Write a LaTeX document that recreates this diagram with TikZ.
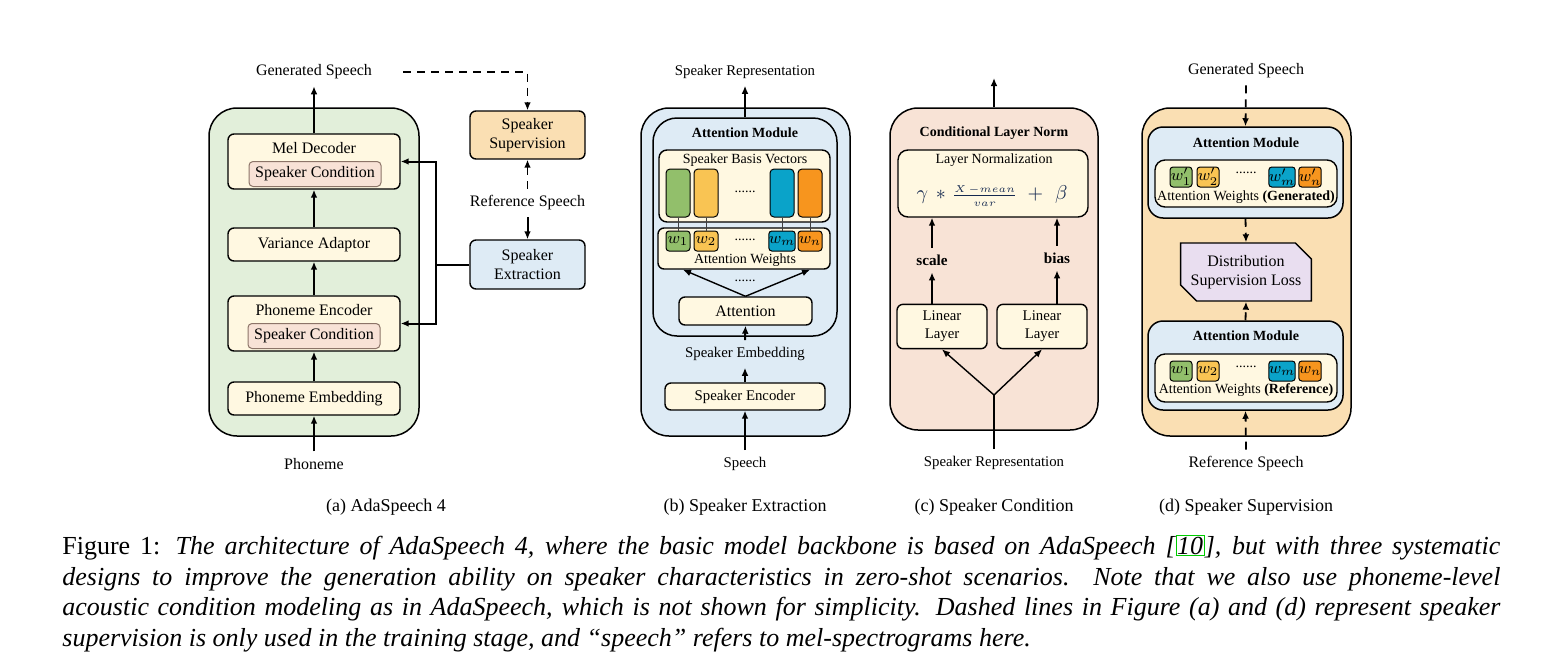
\documentclass[tikz,border=0pt]{standalone}
\usepackage{fontspec}
\setmainfont{Liberation Serif}
\usetikzlibrary{arrows.meta,shapes.misc}
\definecolor{agreen}{HTML}{E2EFDA}
\definecolor{cream}{HTML}{FFF8E1}
\definecolor{condpink}{HTML}{F8E2D6}
\definecolor{condedge}{HTML}{8C7468}
\definecolor{supor}{HTML}{FADFB3}
\definecolor{extblue}{HTML}{DEEBF5}
\definecolor{condpeach}{HTML}{F8E3D6}
\definecolor{lossviolet}{HTML}{E9DEF0}
\definecolor{vgreen}{HTML}{92BF6B}
\definecolor{vyellow}{HTML}{F9C453}
\definecolor{vblue}{HTML}{0AA3C9}
\definecolor{vorange}{HTML}{F7951E}
\definecolor{eqblue}{HTML}{14284F}
\definecolor{linkgreen}{HTML}{00CC00}
\begin{document}
\begin{tikzpicture}[x=0.5pt,y=-0.5pt,
	every node/.style={font=\fontsize{8}{9.4}\selectfont},
	panel/.style={draw,rounded corners=14pt,line width=0.75pt},
	blk/.style={draw,fill=cream,rounded corners=3pt,line width=0.7pt},
	cond/.style={draw=condedge,fill=condpink,rounded corners=2pt,line width=0.5pt,inner sep=1pt},
	vec/.style={draw,rounded corners=2pt,line width=0.5pt,minimum width=12pt,minimum height=24pt},
	wbox/.style={draw,rounded corners=1.5pt,line width=0.5pt,inner sep=0pt,minimum width=12pt,minimum height=10pt,font=\fontsize{8.5}{9}\selectfont},
	wsm/.style={wbox,minimum width=11pt},
	loss/.style={draw,fill=lossviolet,chamfered rectangle,chamfered rectangle corners={north east,south west},chamfered rectangle xsep=4pt,chamfered rectangle ysep=4pt,line width=0.7pt,align=center,minimum width=57pt,minimum height=29pt,inner sep=1pt},
	lbl/.style={font=\fontsize{7.4}{9}\selectfont},
	sm/.style={font=\fontsize{7}{8.4}\selectfont,inner sep=1pt},
	hd/.style={font=\fontsize{7}{8.4}\selectfont\bfseries},
	bd/.style={font=\fontsize{7.6}{9}\selectfont\bfseries},
	eqn/.style={font=\fontsize{10}{12}\selectfont,text=eqblue,inner sep=0pt},
	subcap/.style={font=\fontsize{9}{11}\selectfont},
	arr/.style={-{Latex[length=4pt,width=3.4pt]},line width=1pt},
	darr/.style={arr,line width=0.9pt,dash pattern=on 4pt off 3pt},
	thinln/.style={line width=0.4pt,draw=black!75}]
	\useasboundingbox (0,0) rectangle (1551,659);

	% (a) AdaSpeech 4
	\path (314,272) node [panel,fill=agreen,minimum width=105pt,minimum height=164pt] (apanel) {};
	\path (314,161.5) node [blk,minimum width=86pt,minimum height=27.5pt] (meldec) {};
	\path (314,148) node (meldectxt) {Mel Decoder};
	\path (315,174) node [cond,minimum width=66pt,minimum height=12.5pt] (cond1) {Speaker Condition};
	\path (314,244.5) node [blk,minimum width=86pt,minimum height=16.5pt] (varad) {Variance Adaptor};
	\path (314,323.5) node [blk,minimum width=86pt,minimum height=27.5pt] (phenc) {};
	\path (314,310) node (phenctxt) {Phoneme Encoder};
	\path (314,336) node [cond,minimum width=66pt,minimum height=12.5pt] (cond2) {Speaker Condition};
	\path (314,398.5) node [blk,minimum width=86pt,minimum height=16.5pt] (phemb) {Phoneme Embedding};
	\path (314,72) node (genspa) {Generated Speech};
	\path (314,464) node (phon) {Phoneme};
	\path (527.5,135) node [blk,fill=supor,align=center,minimum width=57.5pt,minimum height=24pt] (spksup) {Speaker\\Supervision};
	\path (527.5,203) node (refspa) {Reference Speech};
	\path (527.5,264.5) node [blk,fill=extblue,align=center,minimum width=57.5pt,minimum height=24.5pt] (spkext) {Speaker\\Extraction};
	\path (436,264.5) coordinate (jn);
	\draw[arr] (meldec.north) -- (genspa.south);
	\draw[arr] (varad.north) -- (meldec.south);
	\draw[arr] (phenc.north) -- (varad.south);
	\draw[arr] (phemb.north) -- (phenc.south);
	\draw[arr] (phon.north) -- (phemb.south);
	\draw[arr] (spkext.west) -- (jn) |- (meldec.east);
	\draw[arr] (jn) |- (phenc.east);
	\draw[darr] ([xshift=12pt]genspa.east) -| (spksup.north);
	\draw[darr] (refspa.north) -- (spksup.south);
	\draw[arr] (refspa.south) -- (spkext.north);

	% (b) Speaker Extraction
	\path (745.5,272) node [panel,fill=extblue,minimum width=104.5pt,minimum height=164pt] (bpanel) {};
	\path (745,227) node [panel,fill=extblue,rounded corners=12pt,minimum width=92pt,minimum height=109pt] (attmod) {};
	\path (745,133) node [hd] (attmodtxt) {Attention Module};
	\path (744.5,186) node [blk,rounded corners=4pt,minimum width=85.5pt,minimum height=36pt] (basis) {};
	\path (745,160) node [sm] (basistxt) {Speaker Basis Vectors};
	\path (678,193) node [vec,fill=vgreen] (v1) {};
	\path (706,193) node [vec,fill=vyellow] (v2) {};
	\path (782,193) node [vec,fill=vblue] (vm) {};
	\path (810,193) node [vec,fill=vorange] (vn) {};
	\path (745,192) node [sm] (vdots) {......};
	\path (744,248.5) node [blk,minimum width=86pt,minimum height=20.5pt] (attw) {};
	\path (678,241) node [wbox,fill=vgreen] (w1) {$w_1$};
	\path (706,241) node [wbox,fill=vyellow] (w2) {$w_2$};
	\path (782,241) node [wbox,fill=vblue] (wm) {$w_m$};
	\path (810,241) node [wbox,fill=vorange] (wn) {$w_n$};
	\path (745,240) node [sm] (wdots) {......};
	\path (745,260) node [sm] (attwtxt) {Attention Weights};
	\draw[thinln] (v1.south) -- (w1.north);
	\draw[thinln] (v2.south) -- (w2.north);
	\draw[thinln] (vm.south) -- (wm.north);
	\draw[thinln] (vn.south) -- (wn.north);
	\path (745.5,311) node [blk,minimum width=66.5pt,minimum height=14pt] (attn) {Attention};
	\path (745,281) node [sm] (adots) {......};
	\draw[arr,line width=0.7pt] (attn.north) -- ([xshift=2.5pt]w1.center |- attw.south);
	\draw[arr,line width=0.7pt] (attn.north) -- (wn.center |- attw.south);
	\path (745,72) node [lbl] (spkrep) {Speaker Representation};
	\path (745,354) node [lbl] (spkemb) {Speaker Embedding};
	\path (745,396.5) node [blk,lbl,minimum width=80pt,minimum height=13.5pt] (spkenc) {Speaker Encoder};
	\path (745,464) node [lbl] (speech) {Speech};
	\draw[arr] (attmod.north) -- (spkrep.south);
	\draw[arr] (spkemb.north) -- (attn.south);
	\draw[arr] (spkenc.north) -- (spkemb.south);
	\draw[arr] (speech.north) -- (spkenc.south);

	% (c) Speaker Condition
	\path (994,269) node [panel,fill=condpeach,minimum width=104pt,minimum height=161pt] (cpanel) {};
	\path (994,133) node [hd] (cplntxt) {Conditional Layer Norm};
	\path (993,183.5) node [blk,rounded corners=5pt,minimum width=95pt,minimum height=33.5pt] (lnorm) {};
	\path (994,160) node [sm] (lnormtxt) {Layer Normalization};
	\path (992,196) node [eqn] (lnormeq) {$\gamma\hspace{4pt}{*}\hspace{3pt}\frac{\scriptscriptstyle X\,-mean}{\scriptscriptstyle var}\hspace{5pt}{+}\hspace{6pt}\beta$};
	\path (932,260) node [bd] (scl) {scale};
	\path (1057,258) node [bd] (bias) {bias};
	\path (942,326.5) node [blk,lbl,align=center,minimum width=45pt,minimum height=20.5pt] (lin1) {Linear\\Layer};
	\path (1042,326.5) node [blk,lbl,align=center,minimum width=45pt,minimum height=20.5pt] (lin2) {Linear\\Layer};
	\path (994,395) coordinate (fork);
	\path (994,78) coordinate (cout);
	\path (994,463) node [lbl] (spkrepc) {Speaker Representation};
	\draw[arr] (cpanel.north) -- (cout);
	\draw[arr] (scl.north) -- (scl.north |- lnorm.south);
	\draw[arr] (scl.south |- lin1.north) -- (scl.south);
	\draw[arr] (bias.north) -- (bias.north |- lnorm.south);
	\draw[arr] (bias.south |- lin2.north) -- (bias.south);
	\draw[line width=1pt] (spkrepc.north) -- (fork);
	\draw[arr,line width=0.7pt] (fork) -- (lin1.south);
	\draw[arr,line width=0.7pt] (fork) -- (lin2.south);

	% (d) Speaker Supervision
	\path (1246.5,272) node [panel,fill=supor,minimum width=104.5pt,minimum height=164pt] (dpanel) {};
	\path (1245.5,172.5) node [panel,fill=extblue,rounded corners=7.5pt,minimum width=97.5pt,minimum height=45.5pt] (amgen) {};
	\path (1246,143) node [hd] (amgentxt) {Attention Module};
	\path (1246,183.5) node [blk,rounded corners=5pt,minimum width=91pt,minimum height=23.5pt] (awgen) {};
	\path (1181,177) node [wsm,fill=vgreen] (wg1) {$w'_1$};
	\path (1208,177) node [wsm,fill=vyellow] (wg2) {$w'_2$};
	\path (1282,177) node [wsm,fill=vblue] (wgm) {$w'_m$};
	\path (1310,177) node [wsm,fill=vorange] (wgn) {$w'_n$};
	\path (1246,173) node [sm] (wgdots) {......};
	\path (1246,197) node [sm] (awgentxt) {Attention Weights \textbf{(Generated)}};
	\path (1246,272) node [loss] (dsl) {Distribution\\Supervision Loss};
	\path (1245.5,365.5) node [panel,fill=extblue,rounded corners=7.5pt,minimum width=97.5pt,minimum height=44.5pt] (amref) {};
	\path (1246,336) node [hd] (amreftxt) {Attention Module};
	\path (1246,378) node [blk,rounded corners=5pt,minimum width=91pt,minimum height=24pt] (awref) {};
	\path (1181,371) node [wsm,fill=vgreen] (wr1) {$w_1$};
	\path (1208,371) node [wsm,fill=vyellow] (wr2) {$w_2$};
	\path (1282,371) node [wsm,fill=vblue] (wrm) {$w_m$};
	\path (1310,371) node [wsm,fill=vorange] (wrn) {$w_n$};
	\path (1246,367) node [sm] (wrdots) {......};
	\path (1246,390) node [sm] (awreftxt) {Attention Weights \textbf{(Reference)}};
	\path (1246,71) node (gensd) {Generated Speech};
	\path (1246,464) node (refsd) {Reference Speech};
	\draw[darr] (gensd.south) -- (amgen.north);
	\draw[darr] (amgen.south) -- (dsl.north);
	\draw[darr] (amref.north) -- (dsl.south);
	\draw[darr] (refsd.north) -- (amref.south);

	% captions
	\path (386,507) node [subcap] (capa) {(a) AdaSpeech 4};
	\path (745,507) node [subcap] (capb) {(b) Speaker Extraction};
	\path (994,507) node [subcap] (capc) {(c) Speaker Condition};
	\path (1246,507) node [subcap] (capd) {(d) Speaker Supervision};
	\path (62,535) node [anchor=north west,inner sep=0pt,text width=719pt,align=justify,font=\fontsize{13}{15.35}\selectfont] (figcap) {Figure 1: \textit{The architecture of AdaSpeech 4, where the basic model backbone is based on AdaSpeech [{\color{linkgreen}\fboxsep=0.3pt\fboxrule=0.5pt\fbox{\color{black}10}}], but with three systematic\linebreak designs to improve the generation ability on speaker characteristics in zero-shot scenarios.\ \ Note that we also use phoneme-level\linebreak acoustic condition modeling as in AdaSpeech, which is not shown for simplicity. Dashed lines in Figure (a) and (d) represent speaker\linebreak supervision is only used in the training stage, and “speech” refers to mel-spectrograms here.}};
\end{tikzpicture}
\end{document}
